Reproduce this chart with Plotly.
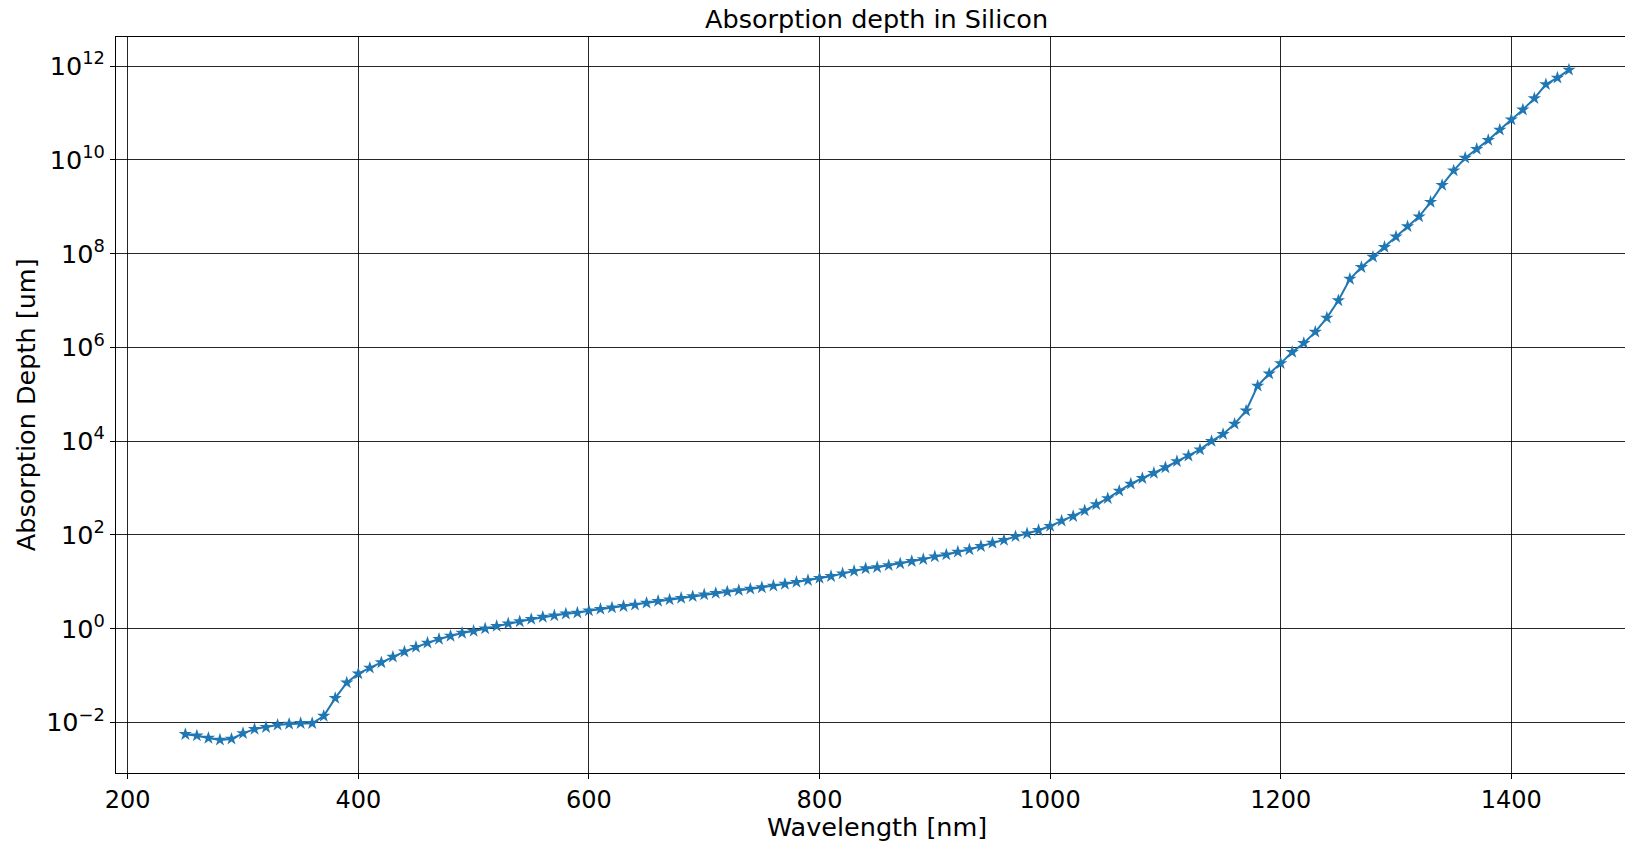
import plotly.graph_objects as go

wavelength_nm = [
    250, 260, 270, 280, 290, 300, 310, 320, 330, 340, 350, 360, 370, 380, 390,
    400, 410, 420, 430, 440, 450, 460, 470, 480, 490, 500, 510, 520, 530, 540,
    550, 560, 570, 580, 590, 600, 610, 620, 630, 640, 650, 660, 670, 680, 690,
    700, 710, 720, 730, 740, 750, 760, 770, 780, 790, 800, 810, 820, 830, 840,
    850, 860, 870, 880, 890, 900, 910, 920, 930, 940, 950, 960, 970, 980, 990,
    1000, 1010, 1020, 1030, 1040, 1050, 1060, 1070, 1080, 1090, 1100, 1110, 1120, 1130, 1140,
    1150, 1160, 1170, 1180, 1190, 1200, 1210, 1220, 1230, 1240, 1250, 1260, 1270, 1280, 1290,
    1300, 1310, 1320, 1330, 1340, 1350, 1360, 1370, 1380, 1390, 1400, 1410, 1420, 1430, 1440,
    1450,
]

absorption_depth_um = [
    5.62e-3, 5.25e-3, 4.68e-3, 4.27e-3, 4.47e-3, 5.89e-3, 7.24e-3, 7.94e-3, 8.91e-3, 9.33e-3,
    9.66e-3, 9.66e-3, 1.38e-2, 3.31e-2, 7.08e-2, 0.110, 0.146, 0.191, 0.251, 0.324,
    0.407, 0.501, 0.603, 0.700, 0.813, 0.891, 1.01, 1.14, 1.29, 1.43,
    1.60, 1.78, 1.91, 2.09, 2.19, 2.43, 2.63, 2.82, 3.02, 3.24,
    3.55, 3.89, 4.17, 4.52, 4.90, 5.36, 5.75, 6.17, 6.61, 7.08,
    7.59, 8.22, 9.02, 9.89, 10.8, 12.0, 13.2, 15.0, 17.0, 19.3,
    20.4, 22.4, 24.5, 27.5, 30.2, 34.7, 38.0, 43.7, 49.0, 57.5,
    67.6, 77.6, 93.3, 107, 126, 155, 200, 251, 331, 447,
    603, 871, 1230, 1620, 2090, 2750, 3720, 4900, 6610, 1.0e4,
    1.41e4, 2.34e4, 4.47e4, 1.51e5, 2.75e5, 4.57e5, 7.94e5, 1.23e6, 2.14e6, 4.27e6,
    1.0e7, 2.88e7, 5.13e7, 8.51e7, 1.38e8, 2.29e8, 3.80e8, 6.17e8, 1.26e9, 2.88e9,
    5.89e9, 1.10e10, 1.70e10, 2.63e10, 4.37e10, 7.24e10, 1.17e11, 2.04e11, 4.07e11, 5.62e11,
    8.32e11,
]

x_tickvals = [200, 400, 600, 800, 1000, 1200, 1400]
y_tickvals = [1e-2, 1e0, 1e2, 1e4, 1e6, 1e8, 1e10, 1e12]
y_ticktext = [
    "10<sup>\u22122</sup>", "10<sup>0</sup>", "10<sup>2</sup>", "10<sup>4</sup>",
    "10<sup>6</sup>", "10<sup>8</sup>", "10<sup>10</sup>", "10<sup>12</sup>",
]

title_text = "Absorption depth in Silicon"
x_label = "Wavelength [nm]"
y_label = "Absorption Depth [um]"

FONT = "DejaVu Sans"
BLUE = "#1f77b4"

fig = go.Figure()
fig.add_trace(go.Scatter(
    x=wavelength_nm,
    y=absorption_depth_um,
    mode="lines+markers",
    line=dict(color=BLUE, width=2),
    marker=dict(symbol="star", size=10, color=BLUE, line=dict(width=0)),
    showlegend=False,
))

fig.update_layout(
    width=1625,
    height=841,
    margin=dict(l=116, r=0, t=37, b=68),
    paper_bgcolor="white",
    plot_bgcolor="white",
    font=dict(family=FONT, color="black", size=24),
    xaxis=dict(
        range=[189.85, 1498.6],
        tickvals=x_tickvals,
        ticks="outside",
        ticklen=5,
        tickwidth=1,
        tickcolor="black",
        showline=True,
        linecolor="black",
        linewidth=1,
        mirror=True,
        showgrid=True,
        gridcolor="rgba(0,0,0,0.85)",
        gridwidth=1,
        zeroline=False,
        tickfont=dict(family=FONT, size=24, color="black"),
    ),
    yaxis=dict(
        type="log",
        range=[-3.076, 12.62],
        tickvals=y_tickvals,
        ticktext=y_ticktext,
        ticks="outside",
        ticklen=5,
        tickwidth=1,
        tickcolor="black",
        showline=True,
        linecolor="black",
        linewidth=1,
        mirror=False,
        showgrid=True,
        gridcolor="rgba(0,0,0,0.85)",
        gridwidth=1,
        zeroline=False,
        tickfont=dict(family=FONT, size=25.5, color="black"),
    ),
    annotations=[
        dict(text=title_text, xref="paper", yref="paper", x=0.504, y=1.024,
             xanchor="center", yanchor="middle", showarrow=False,
             font=dict(family=FONT, size=25.5, color="black")),
        dict(text=x_label, xref="paper", yref="paper", x=0.504, y=-0.073,
             xanchor="center", yanchor="middle", showarrow=False,
             font=dict(family=FONT, size=25.5, color="black")),
        dict(text=y_label, xref="paper", yref="paper", x=-0.0595, y=0.5,
             xanchor="center", yanchor="middle", textangle=-90, showarrow=False,
             font=dict(family=FONT, size=25.5, color="black")),
    ],
)

fig.write_html("out.html")
